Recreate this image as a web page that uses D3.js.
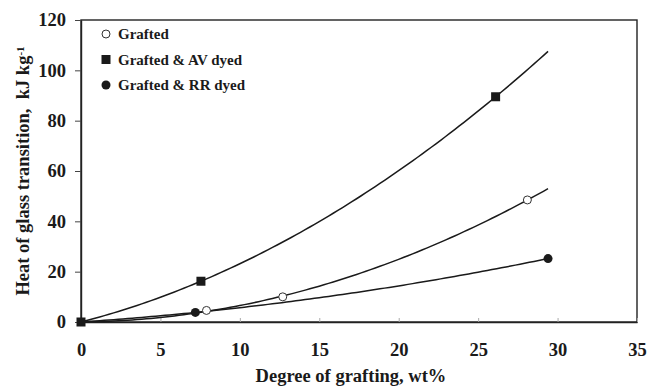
<!DOCTYPE html>
<html>
<head>
<meta charset="utf-8">
<script src="https://cdn.jsdelivr.net/npm/d3@7"></script>
<style>
  html, body { margin: 0; padding: 0; background: #fff; }
  svg { display: block; }
  text { font-family: "Liberation Serif", "Times New Roman", serif; font-weight: bold; fill: #1a1a1a; }
</style>
</head>
<body>
<svg id="chart" width="649" height="388"></svg>
<script>
// Measured points: degree of grafting (wt%) vs heat of glass transition (kJ/kg)
const seriesNames = ["Grafted", "Grafted & AV dyed", "Grafted & RR dyed"];
const graftedX = [0, 7.9, 12.7, 28.1];
const graftedY = [0, 4.6, 10.0, 48.5];
const avDyedX = [0, 7.55, 26.1];
const avDyedY = [0, 16.2, 89.5];
const rrDyedX = [0, 7.2, 29.4];
const rrDyedY = [0, 3.8, 25.2];
// x value where each fitted trend line stops
const trendEnds = [29.4, 29.4, 29.4];

const xTicks = [0, 5, 10, 15, 20, 25, 30, 35];
const yTicks = [0, 20, 40, 60, 80, 100, 120];

const svg = d3.select("#chart");
const plotL = 81, plotR = 637, plotT = 20, plotB = 322;

const x = d3.scaleLinear().domain([0, 35]).range([plotL, plotR]);
const y = d3.scaleLinear().domain([0, 120]).range([plotB, plotT]);

// second-order polynomial trend through the origin: y = a x + b x^2 (least squares)
function fitQuad(xs, ys) {
  let s2 = 0, s3 = 0, s4 = 0, sxy = 0, sx2y = 0;
  xs.forEach((xv, i) => {
    const yv = ys[i];
    s2 += xv * xv; s3 += xv ** 3; s4 += xv ** 4;
    sxy += xv * yv; sx2y += xv * xv * yv;
  });
  const det = s2 * s4 - s3 * s3;
  const a = (sxy * s4 - s3 * sx2y) / det;
  const b = (s2 * sx2y - s3 * sxy) / det;
  return xv => a * xv + b * xv * xv;
}

const series = [
  { name: seriesNames[0], xs: graftedX, ys: graftedY, marker: "openCircle" },
  { name: seriesNames[1], xs: avDyedX, ys: avDyedY, marker: "square" },
  { name: seriesNames[2], xs: rrDyedX, ys: rrDyedY, marker: "filledCircle" }
];

// plot frame
svg.append("rect")
  .attr("x", plotL).attr("y", plotT)
  .attr("width", plotR - plotL).attr("height", plotB - plotT)
  .attr("fill", "none").attr("stroke", "#222").attr("stroke-width", 1.4);

// axes
const xAxis = d3.axisBottom(x).tickValues(xTicks).tickSizeInner(-4).tickSizeOuter(0);
const gx = svg.append("g").attr("transform", `translate(0,${plotB})`).call(xAxis);
gx.select(".domain").attr("stroke", "#222").attr("stroke-width", 1.4);
gx.selectAll(".tick line").attr("stroke", "#aaa");
gx.selectAll(".tick text").style("font-size", "18.5px").attr("dy", null).attr("y", 34);

const yAxis = d3.axisLeft(y).tickValues(yTicks).tickSizeInner(6).tickSizeOuter(0).tickPadding(9);
const gy = svg.append("g").attr("transform", `translate(${plotL},0)`).call(yAxis);
gy.select(".domain").attr("stroke", "#222").attr("stroke-width", 1.4);
gy.selectAll(".tick line").attr("stroke", "#444");
gy.selectAll(".tick text").style("font-size", "18.5px");

// axis titles
svg.append("text")
  .attr("x", 351).attr("y", 382)
  .attr("text-anchor", "middle").style("font-size", "18.5px")
  .text("Degree of grafting, wt%");

const yTitle = svg.append("text")
  .attr("transform", `translate(29,${(plotT + plotB) / 2}) rotate(-90)`)
  .attr("text-anchor", "middle").style("font-size", "18.5px")
  .attr("xml:space", "preserve");
yTitle.append("tspan").text("Heat of glass transition,  kJ kg");
yTitle.append("tspan").attr("dy", "-0.45em").style("font-size", "11px").text("-1");

// trend lines
const line = d3.line().x(d => x(d[0])).y(d => y(d[1]));
series.forEach((s, i) => {
  const f = fitQuad(s.xs, s.ys);
  const end = trendEnds[i];
  const pts = d3.range(0, 101).map(k => { const xv = end * k / 100; return [xv, f(xv)]; });
  svg.append("path").datum(pts)
    .attr("d", line).attr("fill", "none")
    .attr("stroke", "#1a1a1a").attr("stroke-width", 1.5);
});

function drawMarker(g, type, cx, cy) {
  if (type === "square") {
    g.append("rect").attr("x", cx - 4.5).attr("y", cy - 4.5).attr("width", 9).attr("height", 9)
      .attr("fill", "#1a1a1a");
  } else if (type === "filledCircle") {
    g.append("circle").attr("cx", cx).attr("cy", cy).attr("r", 4.5).attr("fill", "#1a1a1a");
  } else {
    g.append("circle").attr("cx", cx).attr("cy", cy).attr("r", 4)
      .attr("fill", "#fff").attr("stroke", "#333").attr("stroke-width", 1);
  }
}

// data markers (the square is drawn last so it sits on top at the origin)
const markerLayer = svg.append("g");
[series[0], series[2], series[1]].forEach(s => {
  s.xs.forEach((xv, j) => {
    if (xv === 0 && s.marker !== "square") return;
    drawMarker(markerLayer, s.marker, x(xv), y(s.ys[j]));
  });
});

// legend
const legend = svg.append("g");
series.forEach((s, i) => {
  const ly = 34 + i * 25.5;
  drawMarker(legend, s.marker, 106, ly);
  legend.append("text").attr("x", 118).attr("y", ly).attr("dy", "0.35em")
    .style("font-size", "15px").text(s.name);
});
</script>
</body>
</html>
